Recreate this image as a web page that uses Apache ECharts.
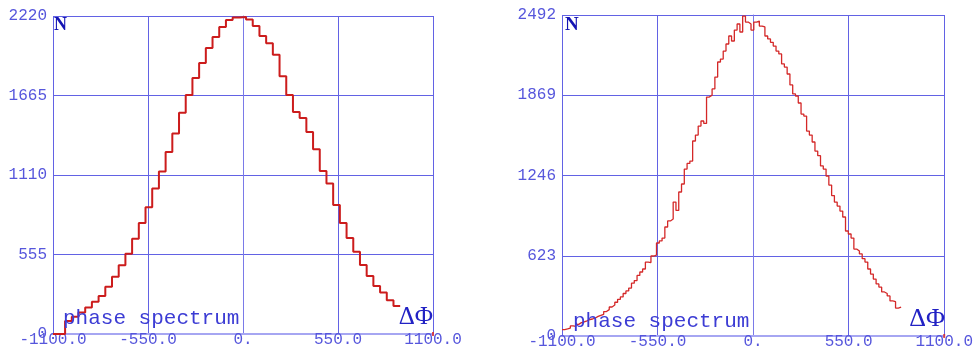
<!DOCTYPE html>
<html>
<head>
<meta charset="utf-8">
<script src="https://cdn.jsdelivr.net/npm/echarts@6/dist/echarts.min.js"></script>
<style>
  html, body { margin: 0; padding: 0; background: #ffffff; }
  #chart { width: 976px; height: 354px; }
</style>
</head>
<body>
<div id="chart"></div>
<script>
// Phase-difference histograms (ΔΦ) shown as two step spectra.

// Left spectrum: coarse binning
const leftBinStart = -1030;
const leftBinWidth = 38.8;
const leftCounts = [
  90, 120, 150, 185, 225, 265, 330, 400, 480, 560,
  665, 775, 885, 1015, 1135, 1270, 1400, 1545, 1668, 1787,
  1892, 1996, 2073, 2143, 2192, 2210, 2213, 2195, 2150, 2080,
  2030, 1950, 1800, 1668, 1550, 1508, 1410, 1290, 1138, 1050,
  900, 775, 670, 575, 482, 405, 335, 290, 235, 195
];

// Right spectrum: fine binning
const rightBinStart = -1100;
const rightBinWidth = 16;
const rightCounts = [
  50, 55, 62, 78, 74, 90, 104, 109, 118, 128,
  132, 140, 152, 160, 168, 190, 205, 225, 240, 262,
  285, 303, 330, 350, 372, 410, 430, 470, 497, 520,
  574, 570, 621, 628, 722, 738, 760, 846, 893, 908,
  1040, 975, 1118, 1180, 1296, 1340, 1358, 1514, 1560, 1630,
  1669, 1650, 1855, 1870, 1918, 2010, 2127, 2150, 2212, 2267,
  2329, 2290, 2375, 2422, 2360, 2484, 2437, 2422, 2375, 2437,
  2445, 2406, 2399, 2329, 2306, 2280, 2251, 2212, 2190, 2112,
  2088, 2034, 1949, 1879, 1863, 1809, 1723, 1707, 1591, 1560,
  1506, 1436, 1400, 1320, 1296, 1242, 1172, 1090, 1040, 1009,
  970, 924, 815, 792, 760, 675, 660, 637, 600, 574,
  520, 481, 442, 404, 380, 342, 330, 311, 272, 266,
  217, 225
];

// Overflow entries sitting at the upper range limit
const leftOverflow = [[1100, 0]];
const rightOverflow = [[1100, 0]];

// Axis ranges and tick labels
const xTicks = [-1100, -550, 0, 550, 1100];
const xTickLabels = ['-1100.0', '-550.0', '0.', '550.0', '1100.0'];
const leftYMax = 2220;
const leftYStep = 555;
const leftYTickLabels = ['0', '555', '1110', '1665', '2220'];
const rightYMax = 2492;
const rightYStep = 623;
const rightYTickLabels = ['0', '623', '1246', '1869', '2492'];

// Step-line points: left edge of each bin with its count, plus closing edge
function stepPoints(start, width, counts, leadIn) {
  const pts = [];
  if (leadIn !== undefined) pts.push([leadIn, 0]);
  counts.forEach((c, i) => pts.push([start + i * width, c]));
  pts.push([start + counts.length * width, counts[counts.length - 1]]);
  return pts;
}

const gridBlue = '#6262e4';
const labelBlue = '#5656dc';
const monoFont = '"Liberation Mono", "DejaVu Sans Mono", monospace';
const serifFont = '"Liberation Serif", "DejaVu Serif", serif';

function xAxisFor(gridIndex) {
  return {
    type: 'value', gridIndex,
    min: xTicks[0], max: xTicks[xTicks.length - 1], interval: 550,
    axisLine: { show: true, onZero: false, lineStyle: { color: '#a6a6f2', width: 2 } },
    axisTick: { show: false },
    splitLine: { show: true, lineStyle: { color: gridBlue, width: 1 } },
    axisLabel: {
      color: labelBlue, fontFamily: monoFont, fontSize: 16, margin: -2,
      formatter: v => xTickLabels[xTicks.indexOf(v)] ?? String(v)
    }
  };
}

function yAxisFor(gridIndex, max, step, labels) {
  return {
    type: 'value', gridIndex,
    min: 0, max, interval: step,
    axisLine: { show: true, lineStyle: { color: '#7a7ae8', width: 1 } },
    axisTick: { show: false },
    splitLine: { show: true, lineStyle: { color: gridBlue, width: 1 } },
    axisLabel: {
      color: labelBlue, fontFamily: monoFont, fontSize: 16, margin: 6,
      formatter: (v) => labels[Math.round(v / step)] ?? String(v)
    }
  };
}

const chart = echarts.init(document.getElementById('chart'), null, { renderer: 'canvas' });

chart.setOption({
  animation: false,
  backgroundColor: '#ffffff',
  grid: [
    { left: 53, top: 16, width: 380, height: 318 },
    { left: 562, top: 15, width: 385, height: 321 }
  ],
  xAxis: [xAxisFor(0), xAxisFor(1)],
  yAxis: [
    yAxisFor(0, leftYMax, leftYStep, leftYTickLabels),
    yAxisFor(1, rightYMax, rightYStep, rightYTickLabels)
  ],
  title: [
    { text: 'N', left: 54, top: 16, padding: 0,
      textStyle: { fontFamily: serifFont, fontWeight: 'bold', fontSize: 18, color: '#1414b4' } },
    { text: 'N', left: 565, top: 16, padding: 0,
      textStyle: { fontFamily: serifFont, fontWeight: 'bold', fontSize: 19, color: '#1414b4' } },
    { text: 'phase spectrum', left: 63, top: 308, padding: 0,
      textStyle: { fontFamily: monoFont, fontWeight: 'normal', fontSize: 21, color: '#3c3cd4' } },
    { text: 'phase spectrum', left: 573, top: 311, padding: 0,
      textStyle: { fontFamily: monoFont, fontWeight: 'normal', fontSize: 21, color: '#3c3cd4' } },
    { text: 'ΔΦ', right: 976 - 433, top: 305, padding: 0,
      textStyle: { fontFamily: serifFont, fontWeight: 'normal', fontSize: 25, color: '#2222c4' } },
    { text: 'ΔΦ', right: 976 - 945, top: 306, padding: 0,
      textStyle: { fontFamily: serifFont, fontWeight: 'normal', fontSize: 26, color: '#2222c4' } }
  ],
  series: [
    {
      type: 'line', xAxisIndex: 0, yAxisIndex: 0, step: 'end',
      data: stepPoints(leftBinStart, leftBinWidth, leftCounts, -1100),
      showSymbol: false, lineStyle: { color: '#cc1c1c', width: 2 }
    },
    {
      type: 'line', xAxisIndex: 1, yAxisIndex: 1, step: 'end',
      data: stepPoints(rightBinStart, rightBinWidth, rightCounts),
      showSymbol: false, lineStyle: { color: '#d42828', width: 1.3 }
    },
    {
      type: 'scatter', xAxisIndex: 0, yAxisIndex: 0, data: leftOverflow,
      symbol: 'rect', symbolSize: [2, 4], itemStyle: { color: '#dd2222' }
    },
    {
      type: 'scatter', xAxisIndex: 1, yAxisIndex: 1, data: rightOverflow,
      symbol: 'rect', symbolSize: [2, 4], itemStyle: { color: '#dd2222' }
    }
  ]
});
</script>
</body>
</html>
